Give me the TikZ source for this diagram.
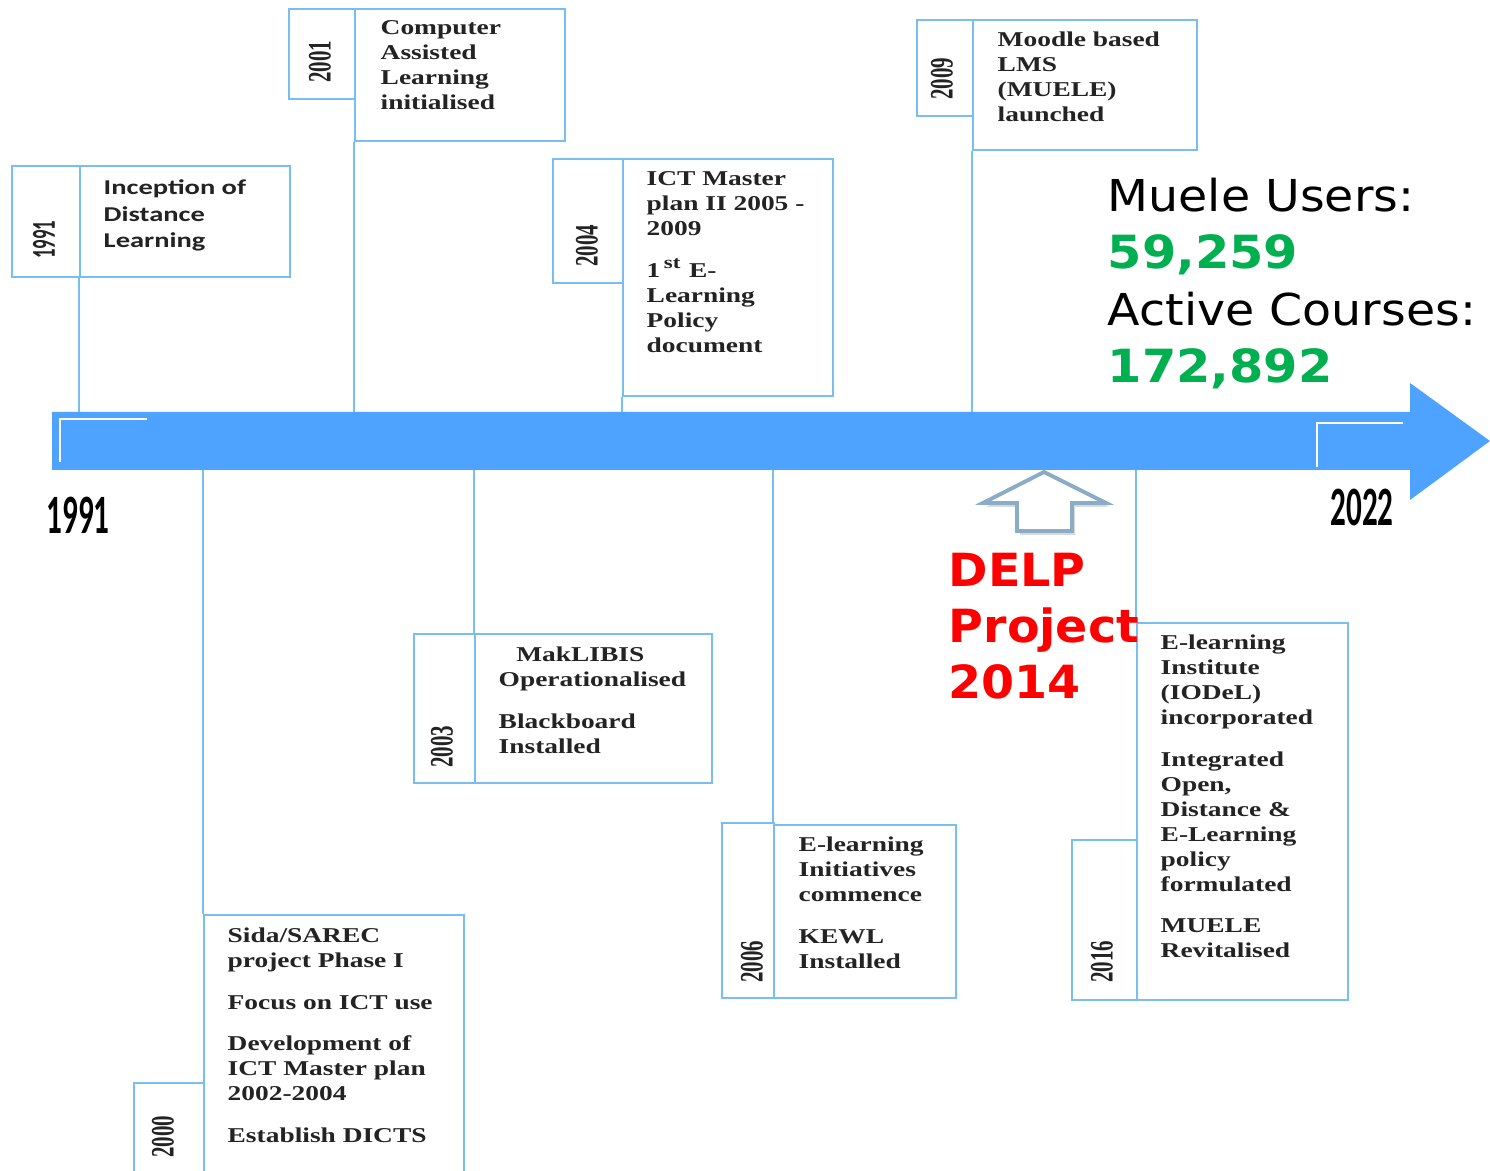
\documentclass[tikz,border=0pt]{standalone}
\usepackage{fontspec}
\usetikzlibrary{fit}
\newfontfamily\boxfont[FakeStretch=1.3]{Liberation Serif}
\newfontfamily\yearfont[FakeStretch=0.64]{Liberation Serif}
\newfontfamily\sansbox[FakeStretch=1.35]{Carlito}
\newfontfamily\bigyear[FakeStretch=0.56]{Carlito}
\newfontfamily\verd[FakeStretch=1.04]{DejaVu Sans}
\newfontfamily\statfont[FakeStretch=1.08]{DejaVu Sans}
\definecolor{arrowblue}{RGB}{77,163,255}
\definecolor{boxblue}{RGB}{120,190,240}
\definecolor{textgray}{RGB}{35,35,35}
\definecolor{delpgray}{RGB}{138,172,198}
\definecolor{numgreen}{RGB}{0,176,80}
\newcommand\pgap{\vskip 4.7pt}
\begin{document}
\begin{tikzpicture}[x=0.01cm, y=-0.01cm,
  tbox/.style={draw=boxblue, line width=0.65pt, inner sep=0pt},
  conn/.style={draw=boxblue, line width=0.65pt},
  txt/.style={anchor=base west, inner sep=0pt, text=textgray,
    font=\boxfont\bfseries\fontsize{6}{7.1}\selectfont},
  stxt/.style={anchor=base west, inner sep=0pt, text=textgray,
    font=\sansbox\bfseries\fontsize{6}{7.5}\selectfont},
  yr/.style={rotate=90, inner sep=0pt, text=textgray,
    font=\yearfont\bfseries\fontsize{9.3}{10}\selectfont},
  syr/.style={rotate=90, inner sep=0pt, text=textgray,
    font=\bigyear\bfseries\fontsize{9.5}{10}\selectfont},
  endyr/.style={inner sep=0pt, text=black,
    font=\bigyear\bfseries\fontsize{15.8}{16}\selectfont},
  delp/.style={anchor=base west, inner sep=0pt, text=red,
    font=\verd\bfseries\fontsize{13}{15.8}\selectfont},
  stats/.style={anchor=base west, inner sep=0pt, text=black,
    font=\statfont\fontsize{12.5}{16.2}\selectfont}
]
\clip (0,0) rectangle (1490,1171);
\fill[white] (0,0) rectangle (1490,1171);

% main timeline arrow
\fill[arrowblue] (52,412) -- (1410,412) -- (1410,383) -- (1490,441)
  -- (1410,500) -- (1410,470) -- (52,470) -- cycle;
\draw[white, line width=0.5pt] (60,462) -- (60,419) -- (147,419);
\draw[white, line width=0.5pt] (1317,467) -- (1317,423) -- (1403,423);
\coordinate (bartop) at (0,412);
\coordinate (barbot) at (0,470);

\node[endyr] (y1991) at (78,515) {1991};
\node[endyr] (y2022) at (1362,507) {2022};

% ---------- top boxes ----------
% 1991
\node[tbox, fit={(12,166) (80,277)}] (yb1991) {};
\node[tbox, fit={(80,166) (290,277)}] (b1991) {};
\node[syr] (l1991) at (44,240) {1991};
\node[stxt] (t1991) at (103,195) {\vtop{\hbox{Inception of}\hbox{Distance}\hbox{Learning}}};
\draw[conn] (b1991.south west) -- (b1991.south west |- bartop);

% 2001
\node[tbox, fit={(289,9) (355,99)}] (yb2001) {};
\node[tbox, fit={(355,9) (565,141)}] (b2001) {};
\node[yr] (l2001) at (320,62) {2001};
\node[txt] (t2001) at (380,35) {\vtop{\hbox{Computer}\hbox{Assisted}\hbox{Learning}\hbox{initialised}}};
\draw[conn] (b2001.south west) -- (b2001.south west |- bartop);

% 2004
\node[tbox, fit={(553,159) (623,283)}] (yb2004) {};
\node[tbox, fit={(623,159) (833,396)}] (b2004) {};
\node[yr] (l2004) at (587,246) {2004};
\node[txt] (t2004) at (646,186) {\vtop{\hbox{ICT Master}\hbox{plan II 2005 -}\hbox{2009}\pgap
  \hbox{1\,\textsuperscript{st} E-}\hbox{Learning}\hbox{Policy}\hbox{document}}};
\draw[conn] (b2004.south west) -- (b2004.south west |- bartop);

% 2009
\node[tbox, fit={(917,20) (973,116)}] (yb2009) {};
\node[tbox, fit={(973,20) (1197,150)}] (b2009) {};
\node[yr] (l2009) at (942,79) {2009};
\node[txt] (t2009) at (997,47) {\vtop{\hbox{Moodle based}\hbox{LMS}\hbox{(MUELE)}\hbox{launched}}};
\draw[conn] (b2009.south west) -- (b2009.south west |- bartop);

% ---------- bottom boxes ----------
% 2003
\node[tbox, fit={(414,634) (475,783)}] (yb2003) {};
\node[tbox, fit={(475,634) (712,783)}] (b2003) {};
\node[yr] (l2003) at (442,747) {2003};
\node[txt] (t2003) at (498,662) {\vtop{\hbox{\hspace{5pt}MakLIBIS}\hbox{Operationalised}\pgap
  \hbox{Blackboard}\hbox{Installed}}};
\draw[conn] (b2003.north west) -- (b2003.north west |- barbot);

% 2006
\node[tbox, fit={(722,823) (774,998)}] (yb2006) {};
\node[tbox, fit={(774,825) (956,998)}] (b2006) {};
\node[yr] (l2006) at (752,962) {2006};
\node[txt] (t2006) at (798,852) {\vtop{\hbox{E-learning}\hbox{Initiatives}\hbox{commence}\pgap
  \hbox{KEWL}\hbox{Installed}}};
\draw[conn] (b2006.north west) -- (b2006.north west |- barbot);

% 2016
\node[tbox, fit={(1072,840) (1137,1000)}] (yb2016) {};
\node[tbox, fit={(1137,623) (1348,1000)}] (b2016) {};
\node[yr] (l2016) at (1102,962) {2016};
\node[txt] (t2016) at (1160,650) {\vtop{\hbox{E-learning}\hbox{Institute}\hbox{(IODeL)}\hbox{incorporated}\pgap
  \hbox{Integrated}\hbox{Open,}\hbox{Distance \&}\hbox{E-Learning}\hbox{policy}\hbox{formulated}\pgap
  \hbox{MUELE}\hbox{Revitalised}}};
\draw[conn] (b2016.north west) -- (b2016.north west |- barbot);

% 2000
\node[tbox, fit={(134,1083) (204,1190)}] (yb2000) {};
\node[tbox, fit={(204,915) (464,1190)}] (b2000) {};
\node[yr] (l2000) at (163,1137) {2000};
\node[txt] (t2000) at (227,943) {\vtop{\hbox{Sida/SAREC}\hbox{project Phase I}\pgap
  \hbox{Focus on ICT use}\pgap
  \hbox{Development of}\hbox{ICT Master plan}\hbox{2002-2004}\pgap
  \hbox{Establish DICTS}}};
\draw[conn] (b2000.north west) -- (b2000.north west |- barbot);

% ---------- DELP marker ----------
\fill[black, opacity=0.15] (1047,476) -- (1109,507) -- (1075,507) -- (1075,535)
  -- (1020,535) -- (1020,507) -- (986,507) -- cycle;
\draw[delpgray, fill=white, line width=1.1pt, line join=miter]
  (1044,472) -- (1106,503) -- (1072,503) -- (1072,531)
  -- (1017,531) -- (1017,503) -- (983,503) -- cycle;
\node[delp] (delp) at (948,587) {\vtop{\hbox{DELP}\hbox{Project}\hbox{2014}}};

% ---------- statistics ----------
\node[stats] (stats) at (1107,212) {\vtop{\hbox{Muele Users:}
  \hbox{\color{numgreen}\bfseries\fontsize{13}{16.2}\selectfont 59,259}
  \hbox{Active Courses:}
  \hbox{\color{numgreen}\bfseries\fontsize{13}{16.2}\selectfont 172,892}}};
\end{tikzpicture}
\end{document}
